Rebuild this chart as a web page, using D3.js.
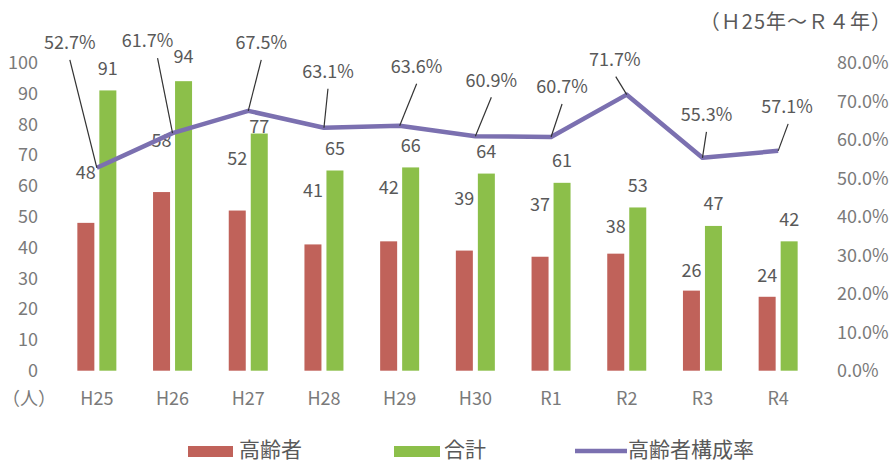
<!DOCTYPE html>
<meta charset="utf-8">
<head>
  <title>高齢者構成率</title>
</head>
<body>
<style>
  html, body {
    margin: 0;
    padding: 0;
    background: #fff;
  }
  svg text {
    font-family: "Noto Sans CJK JP", sans-serif;
  }
  .tick-label {
    fill: #7a7a7a;
    font-size: 18px;
  }
  .data-label {
    fill: #595959;
    font-size: 18px;
  }
  .legend-label {
    fill: #595959;
    font-size: 21px;
  }
  .note {
    fill: #595959;
    font-size: 20px;
    letter-spacing: 1px;
  }
</style>
<div id="chart"></div>
<script src="https://cdn.jsdelivr.net/npm/d3@7"></script>
<script>

// data
var years = ["H25", "H26", "H27", "H28", "H29", "H30", "R1", "R2", "R3", "R4"];
var elderly = [48, 58, 52, 41, 42, 39, 37, 38, 26, 24];
var total = [91, 94, 77, 65, 66, 64, 61, 53, 47, 42];
var rate = [0.527, 0.617, 0.675, 0.631, 0.636, 0.609, 0.607, 0.717, 0.553, 0.571];
var leftTicks = [0, 10, 20, 30, 40, 50, 60, 70, 80, 90, 100];
var rightTicks = [0, 0.1, 0.2, 0.3, 0.4, 0.5, 0.6, 0.7, 0.8];
var seriesNames = ["高齢者", "合計", "高齢者構成率"];

// label placement (the labels were moved by hand in the original)
var elderlyLabelGap = [50, 51, 52, 54, 54, 52, 52, 27, 20, 21];
var totalLabelGap = [22, 24, 7, 22, 22, 22, 22, 22, 22, 22];
// [label dx, label dy, leader-top dx] from the line point
var rateLabelShift = [[-27, -125, -27], [-25, -92, -15], [13, -68, 13], [4, -56, 4], [17, -59, 17],
                      [16, -56, 16], [11, -50, 11], [-12, -35, -11], [4, -43, 4], [9, -44, 10]];

var width = 893, height = 464;
var colors = {red: "#c0625a", green: "#8cbf4a", purple: "#7b70b0"};

var svg = d3.select("#chart").append("svg")
    .attr("width", width)
    .attr("height", height);

var x = d3.scaleBand()
    .domain(years)
    .range([59, 816]);

var inner = d3.scaleBand()
    .domain(["elderly", "total"])
    .range([-19.5, 19.5])
    .paddingInner(5 / 22);

var y = d3.scaleLinear()
    .domain([0, 100])
    .range([370.7, 62.7]);

var yRate = d3.scaleLinear()
    .domain([0, 0.8])
    .range([370.7, 62.7]);

function cx(d, i) { return x(years[i]) + x.bandwidth() / 2; }

// left axis
svg.append("g").selectAll("text")
    .data(leftTicks)
  .enter().append("text")
    .attr("class", "tick-label")
    .attr("x", 38)
    .attr("y", function(d) { return y(d); })
    .attr("dy", "0.35em")
    .attr("text-anchor", "end")
    .text(function(d) { return d; });

svg.append("text")
    .attr("class", "tick-label")
    .attr("x", 29)
    .attr("y", 399)
    .attr("dy", "0.35em")
    .attr("text-anchor", "middle")
    .text("（人）");

// right axis
svg.append("g").selectAll("text")
    .data(rightTicks)
  .enter().append("text")
    .attr("class", "tick-label")
    .attr("x", 837)
    .attr("y", function(d) { return yRate(d); })
    .attr("dy", "0.35em")
    .attr("text-anchor", "start")
    .text(d3.format(".1%"));

// category labels
svg.append("g").selectAll("text")
    .data(years)
  .enter().append("text")
    .attr("class", "tick-label")
    .attr("x", function(d) { return x(d) + x.bandwidth() / 2; })
    .attr("y", 399)
    .attr("dy", "0.35em")
    .attr("text-anchor", "middle")
    .text(function(d) { return d; });

// bars
var bars = svg.append("g");

bars.selectAll("rect.elderly")
    .data(elderly)
  .enter().append("rect")
    .attr("class", "elderly")
    .attr("x", function(d, i) { return cx(d, i) + inner("elderly"); })
    .attr("width", inner.bandwidth())
    .attr("y", function(d) { return y(d); })
    .attr("height", function(d) { return y(0) - y(d); })
    .style("fill", colors.red);

bars.selectAll("rect.total")
    .data(total)
  .enter().append("rect")
    .attr("class", "total")
    .attr("x", function(d, i) { return cx(d, i) + inner("total"); })
    .attr("width", inner.bandwidth())
    .attr("y", function(d) { return y(d); })
    .attr("height", function(d) { return y(0) - y(d); })
    .style("fill", colors.green);

// bar value labels
svg.append("g").selectAll("text")
    .data(elderly)
  .enter().append("text")
    .attr("class", "data-label")
    .attr("x", function(d, i) { return cx(d, i) + inner("elderly") + inner.bandwidth() / 2; })
    .attr("y", function(d, i) { return y(d) - elderlyLabelGap[i]; })
    .attr("dy", "0.35em")
    .attr("text-anchor", "middle")
    .text(function(d) { return d; });

svg.append("g").selectAll("text")
    .data(total)
  .enter().append("text")
    .attr("class", "data-label")
    .attr("x", function(d, i) { return cx(d, i) + inner("total") + inner.bandwidth() / 2; })
    .attr("y", function(d, i) { return y(d) - totalLabelGap[i]; })
    .attr("dy", "0.35em")
    .attr("text-anchor", "middle")
    .text(function(d) { return d; });

// rate line
var line = d3.line()
    .x(function(d, i) { return cx(d, i); })
    .y(function(d) { return yRate(d); });

svg.append("path")
    .datum(rate)
    .attr("d", line)
    .style("fill", "none")
    .style("stroke", colors.purple)
    .style("stroke-width", 4.5)
    .style("stroke-linejoin", "round");

// rate labels with leader lines
var rateLabels = svg.append("g").selectAll("g")
    .data(rate)
  .enter().append("g");

rateLabels.append("line")
    .attr("x1", function(d, i) { return cx(d, i); })
    .attr("y1", function(d) { return yRate(d); })
    .attr("x2", function(d, i) { return cx(d, i) + rateLabelShift[i][2]; })
    .attr("y2", function(d, i) { return yRate(d) + rateLabelShift[i][1] + 17; })
    .style("stroke", "#333")
    .style("stroke-width", 1.2);

rateLabels.append("text")
    .attr("class", "data-label")
    .attr("x", function(d, i) { return cx(d, i) + rateLabelShift[i][0]; })
    .attr("y", function(d, i) { return yRate(d) + rateLabelShift[i][1]; })
    .attr("dy", "0.35em")
    .attr("text-anchor", "middle")
    .text(d3.format(".1%"));

// period note
svg.append("text")
    .attr("class", "note")
    .attr("x", 892)
    .attr("y", 22)
    .attr("dy", "0.35em")
    .attr("text-anchor", "end")
    .text("（Ｈ25年～Ｒ４年）");

// legend
var legend = svg.append("g");
var legendX = [188, 394, 575];

legend.append("rect")
    .attr("x", legendX[0]).attr("y", 446)
    .attr("width", 45).attr("height", 11)
    .style("fill", colors.red);

legend.append("rect")
    .attr("x", legendX[1]).attr("y", 446)
    .attr("width", 46).attr("height", 11)
    .style("fill", colors.green);

legend.append("line")
    .attr("x1", legendX[2]).attr("x2", legendX[2] + 52)
    .attr("y1", 451).attr("y2", 451)
    .style("stroke", colors.purple)
    .style("stroke-width", 4.5);

legend.selectAll("text")
    .data(seriesNames)
  .enter().append("text")
    .attr("class", "legend-label")
    .attr("x", function(d, i) { return [239, 444, 628][i]; })
    .attr("y", 450)
    .attr("dy", "0.35em")
    .text(function(d) { return d; });

</script>
</body>
